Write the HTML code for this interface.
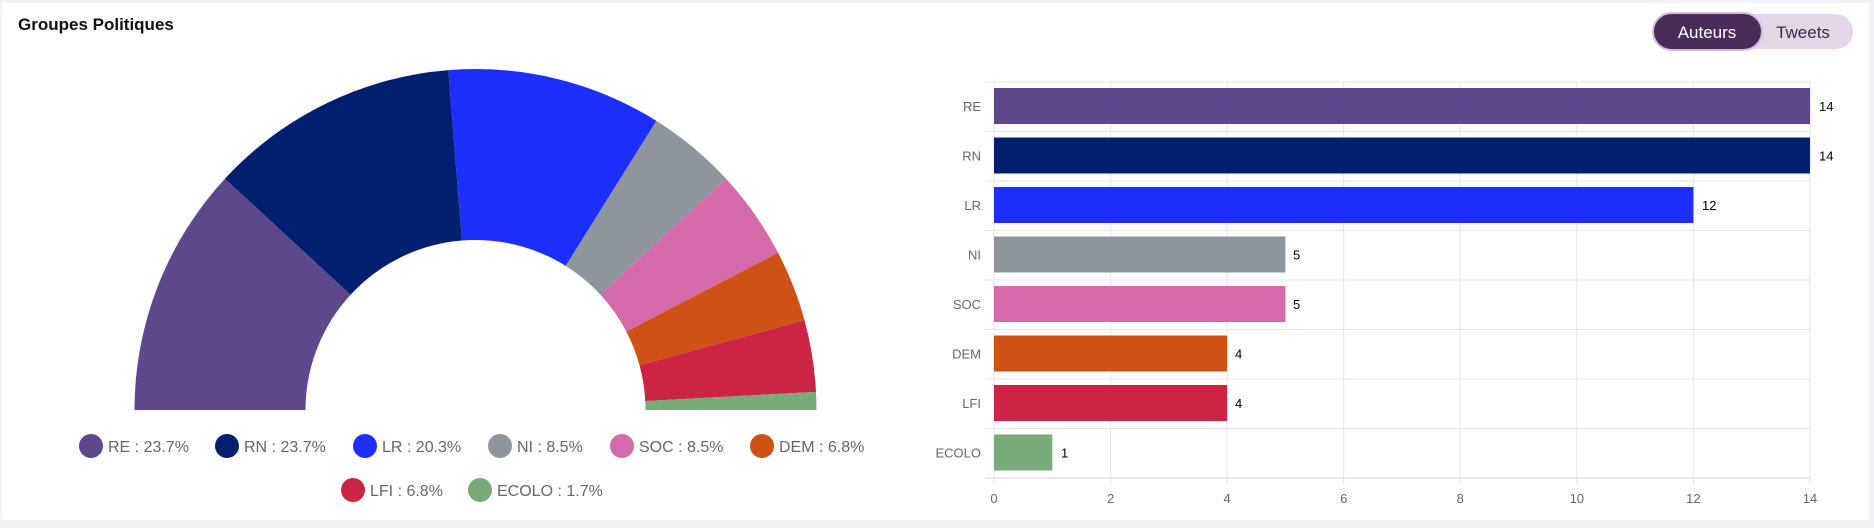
<!DOCTYPE html>
<html><head><meta charset="utf-8"><style>
body{margin:0;background:#f1f1f8;width:1874px;height:523px;overflow:hidden;font-family:"Liberation Sans",sans-serif}
</style></head><body>
<svg width="1874" height="523" xmlns="http://www.w3.org/2000/svg" font-family="Liberation Sans, sans-serif">
<rect x="2" y="3" width="1867" height="517" fill="#fff"/>
<text x="18" y="30" font-size="17" font-weight="bold" fill="#111">Groupes Politiques</text>
<!-- toggle -->
<rect x="1653" y="14" width="200" height="35" rx="17.5" fill="#e4d6e8"/>
<rect x="1653" y="13" width="109" height="37" rx="18.5" fill="#4a2c5a" stroke="#d2bcd8" stroke-width="2"/>
<text x="1707" y="38" font-size="17" fill="#fff" text-anchor="middle">Auteurs</text>
<text x="1803" y="38" font-size="17" fill="#3a2a44" text-anchor="middle">Tweets</text>
<!-- donut -->
<path d="M134.5,410 A341,341 0 0 1 224.9,178.7 L350.6,294.7 A170,170 0 0 0 305.5,410 Z" fill="#5f478c"/>
<path d="M224.9,178.7 A341,341 0 0 1 448.3,70.1 L461.9,240.5 A170,170 0 0 0 350.6,294.7 Z" fill="#00206f"/>
<path d="M448.3,70.1 A341,341 0 0 1 656.4,120.9 L565.7,265.9 A170,170 0 0 0 461.9,240.5 Z" fill="#1d2fff"/>
<path d="M656.4,120.9 A341,341 0 0 1 726.1,178.8 L600.5,294.7 A170,170 0 0 0 565.7,265.9 Z" fill="#8f959c"/>
<path d="M726.1,178.8 A341,341 0 0 1 778.1,252.8 L626.3,331.6 A170,170 0 0 0 600.5,294.7 Z" fill="#d46aaa"/>
<path d="M778.1,252.8 A341,341 0 0 1 804.5,320.3 L639.5,365.3 A170,170 0 0 0 626.3,331.6 Z" fill="#cf5116"/>
<path d="M804.5,320.3 A341,341 0 0 1 816.0,391.9 L645.3,401.0 A170,170 0 0 0 639.5,365.3 Z" fill="#cc2444"/>
<path d="M816.0,391.9 A341,341 0 0 1 816.5,410 L645.5,410 A170,170 0 0 0 645.3,401.0 Z" fill="#79aa79"/>
<!-- legend -->
<g font-size="16" fill="#666">
<circle cx="91" cy="446" r="12" fill="#5f478c"/><text x="108" y="452">RE : 23.7%</text>
<circle cx="227" cy="446" r="12" fill="#00206f"/><text x="244" y="452">RN : 23.7%</text>
<circle cx="365" cy="446" r="12" fill="#1d2fff"/><text x="382" y="452">LR : 20.3%</text>
<circle cx="500" cy="446" r="12" fill="#8f959c"/><text x="517" y="452">NI : 8.5%</text>
<circle cx="622" cy="446" r="12" fill="#d46aaa"/><text x="639" y="452">SOC : 8.5%</text>
<circle cx="762" cy="446" r="12" fill="#cf5116"/><text x="779" y="452">DEM : 6.8%</text>
<circle cx="353" cy="490" r="12" fill="#cc2444"/><text x="370" y="496">LFI : 6.8%</text>
<circle cx="480" cy="490" r="12" fill="#79aa79"/><text x="497" y="496">ECOLO : 1.7%</text>
</g>
<!-- bar chart grid -->
<g stroke="#e5e5e5" stroke-width="1">
<line x1="994" y1="82" x2="994" y2="484"/><line x1="1110.6" y1="82" x2="1110.6" y2="484"/><line x1="1227.1" y1="82" x2="1227.1" y2="484"/><line x1="1343.7" y1="82" x2="1343.7" y2="484"/><line x1="1460.2" y1="82" x2="1460.2" y2="484"/><line x1="1576.8" y1="82" x2="1576.8" y2="484"/><line x1="1693.4" y1="82" x2="1693.4" y2="484"/><line x1="1810" y1="82" x2="1810" y2="484"/>
<line x1="985" y1="82" x2="1810" y2="82"/><line x1="985" y1="131.5" x2="1810" y2="131.5"/><line x1="985" y1="181" x2="1810" y2="181"/><line x1="985" y1="230.5" x2="1810" y2="230.5"/><line x1="985" y1="280" x2="1810" y2="280"/><line x1="985" y1="329.5" x2="1810" y2="329.5"/><line x1="985" y1="379" x2="1810" y2="379"/><line x1="985" y1="428.5" x2="1810" y2="428.5"/>
</g>
<line x1="985" y1="478" x2="1810" y2="478" stroke="#d0d0d0"/>
<!-- bars -->
<rect x="994" y="88" width="816" height="36" fill="#5f478c"/>
<rect x="994" y="137.5" width="816" height="36" fill="#00206f"/>
<rect x="994" y="187" width="699.4" height="36" fill="#1d2fff"/>
<rect x="994" y="236.5" width="291.4" height="36" fill="#8f959c"/>
<rect x="994" y="286" width="291.4" height="36" fill="#d46aaa"/>
<rect x="994" y="335.5" width="233.1" height="36" fill="#cf5116"/>
<rect x="994" y="385" width="233.1" height="36" fill="#cc2444"/>
<rect x="994" y="434.5" width="58.3" height="36" fill="#79aa79"/>
<g font-size="13" fill="#000">
<text x="1819" y="111">14</text><text x="1819" y="160.5">14</text><text x="1702" y="210">12</text>
<text x="1293" y="259.5">5</text><text x="1293" y="309">5</text><text x="1235" y="358.5">4</text><text x="1235" y="408">4</text><text x="1061" y="457.5">1</text>
</g>
<g font-size="13" fill="#666" text-anchor="end">
<text x="981" y="111">RE</text><text x="981" y="160.5">RN</text><text x="981" y="210">LR</text><text x="981" y="259.5">NI</text><text x="981" y="309">SOC</text><text x="981" y="358.5">DEM</text><text x="981" y="408">LFI</text><text x="981" y="457.5">ECOLO</text>
</g>
<g font-size="13" fill="#666" text-anchor="middle">
<text x="994" y="503">0</text><text x="1110.6" y="503">2</text><text x="1227.1" y="503">4</text><text x="1343.7" y="503">6</text><text x="1460.2" y="503">8</text><text x="1576.8" y="503">10</text><text x="1693.4" y="503">12</text><text x="1810" y="503">14</text>
</g>
</svg>
</body></html>
